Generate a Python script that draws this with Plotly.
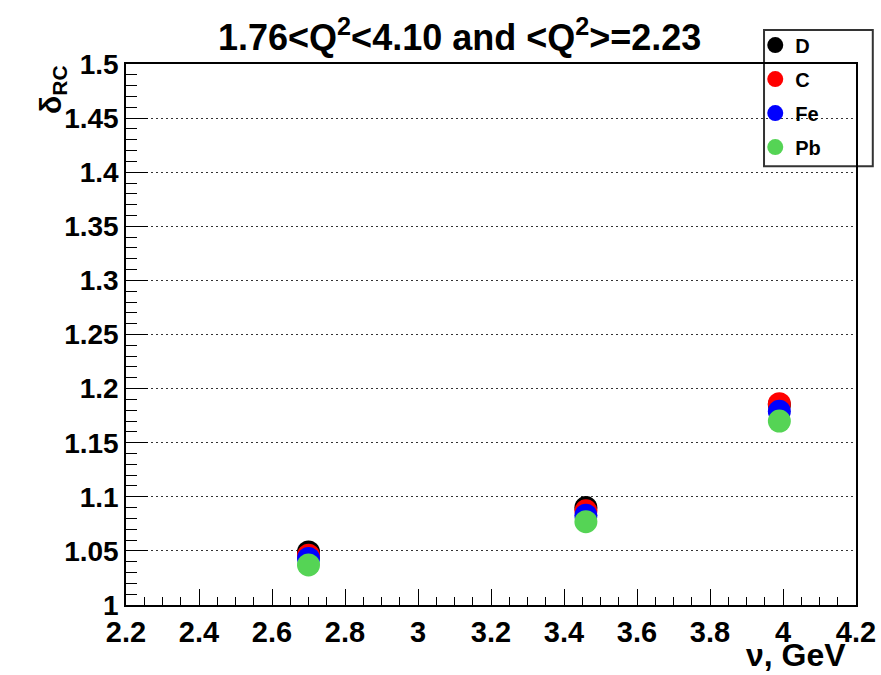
import plotly.graph_objects as go

# ---- data ----
nu = [2.70, 3.46, 3.99]
delta_D = [1.049, 1.090, 1.185]
delta_C = [1.046, 1.087, 1.186]
delta_Fe = [1.043, 1.083, 1.179]
delta_Pb = [1.037, 1.077, 1.170]
series_names = ["D", "C", "Fe", "Pb"]
series_colors = ["#000000", "#ff0000", "#0000ff", "#55d455"]

x_tickvals = [2.2, 2.4, 2.6, 2.8, 3.0, 3.2, 3.4, 3.6, 3.8, 4.0, 4.2]
x_ticktext = ["2.2", "2.4", "2.6", "2.8", "3", "3.2", "3.4", "3.6", "3.8", "4", "4.2"]
y_tickvals = [1.0, 1.05, 1.1, 1.15, 1.2, 1.25, 1.3, 1.35, 1.4, 1.45, 1.5]
y_ticktext = ["1", "1.05", "1.1", "1.15", "1.2", "1.25", "1.3", "1.35", "1.4", "1.45", "1.5"]

FONT = "Liberation Sans, Arial, Helvetica, sans-serif"

fig = go.Figure()
for name, ys, col in zip(series_names, [delta_D, delta_C, delta_Fe, delta_Pb], series_colors):
    fig.add_trace(go.Scatter(
        x=nu, y=ys, mode="markers", name=name, legendgroup=name,
        marker=dict(size=23, color=col, line=dict(width=0)),
    ))

fig.update_layout(
    width=881, height=675,
    margin=dict(l=126, r=25, t=64, b=70, autoexpand=False),
    paper_bgcolor="white", plot_bgcolor="white",
    showlegend=True,
    legend=dict(
        x=0.862, y=1.071, xanchor="left", yanchor="top",
        bgcolor="rgba(0,0,0,0)", borderwidth=0,
        font=dict(family=FONT, size=20, color="black", weight="bold"),
        itemwidth=30, tracegroupgap=5,
    ),
    shapes=[dict(type="rect", xref="paper", yref="paper",
                 x0=0.874, x1=1.023, y0=0.811, y1=1.063,
                 line=dict(color="#333333", width=2), fillcolor="white", layer="below")],
    annotations=[
        dict(text="1.76&lt;Q<sup>2</sup>&lt;4.10 and &lt;Q<sup>2</sup>&gt;=2.23",
             xref="paper", yref="paper", x=0.4575, y=1.053, xanchor="center", yanchor="middle",
             showarrow=False, font=dict(family=FONT, size=36, color="black", weight="bold")),
        dict(text="δ<sub>RC</sub>", xref="paper", yref="paper", x=-0.1, y=0.952,
             xanchor="center", yanchor="middle", textangle=-90, showarrow=False,
             font=dict(family=FONT, size=30, color="black", weight="bold")),
        dict(text="ν, GeV", xref="paper", yref="paper", x=0.989, y=-0.093,
             xanchor="right", yanchor="middle", showarrow=False,
             font=dict(family=FONT, size=32, color="black", weight="bold")),
    ],
)

fig.update_xaxes(
    range=[2.2, 4.2], tickvals=x_tickvals, ticktext=x_ticktext,
    ticks="inside", ticklen=16, tickcolor="black", tickwidth=1,
    minor=dict(dtick=0.05, tick0=2.2, ticks="inside", ticklen=8, tickcolor="black", tickwidth=1, showgrid=False),
    showline=True, linecolor="black", linewidth=1.5, mirror=True,
    showgrid=False, zeroline=False,
    tickfont=dict(family=FONT, size=29, color="black", weight="bold"),
)
fig.update_yaxes(
    range=[1.0, 1.5], tickvals=y_tickvals, ticktext=y_ticktext,
    ticks="inside", ticklen=22, tickcolor="black", tickwidth=1,
    minor=dict(dtick=0.01, tick0=1.0, ticks="inside", ticklen=11, tickcolor="black", tickwidth=1, showgrid=False),
    showline=True, linecolor="black", linewidth=1.5, mirror=True,
    showgrid=True, gridcolor="#333333", gridwidth=1, griddash="2px,3px",
    zeroline=False,
    tickfont=dict(family=FONT, size=28, color="black", weight="bold"),
)

fig.write_html("out.html")
